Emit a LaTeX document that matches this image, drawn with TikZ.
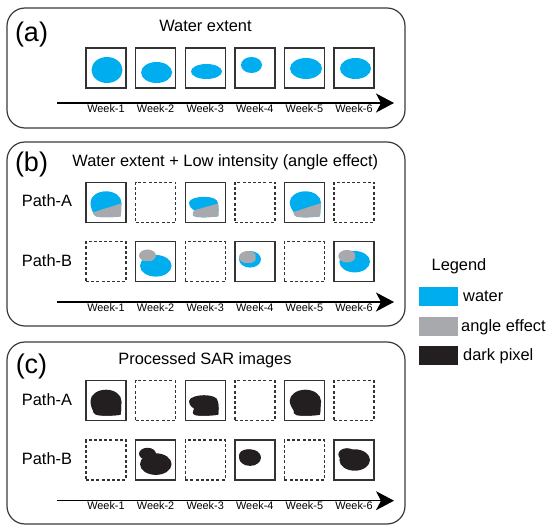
\documentclass[tikz,border=0pt]{standalone}
\usepackage{fontspec}
\setmainfont{Liberation Sans}
\usetikzlibrary{arrows.meta}
\definecolor{water}{HTML}{00AEEF}
\definecolor{angle}{HTML}{A7A9AC}
\definecolor{dark}{HTML}{231F20}
\definecolor{panelgray}{HTML}{3A3A3A}
\definecolor{boxgray}{HTML}{333333}
\def\blobAone{(-13,10) .. controls (-14.8,7) and (-15.5,3) .. (-15.5,0) .. controls (-15.5,-6.1) and (-8.5,-11) .. (0,-11) .. controls (8.5,-11) and (15.5,-6.1) .. (15.5,0.5) .. controls (14.8,5) and (15.5,10) .. (14.5,14) .. controls (10,15) and (-6,15.5) .. (-10,14) .. controls (-12,13) and (-12.8,11.5) .. cycle}
\def\blobAthree{(-11,8) .. controls (-14.5,6) and (-16.5,3) .. (-16,0) .. controls (-15.5,-3.5) and (-8,-5.5) .. (-1,-5.5) .. controls (6,-5.5) and (12.6,-3.5) .. (12.6,0.5) .. controls (13.5,4) and (13.5,10) .. (13,14) .. controls (6,15) and (-6,15.5) .. (-10,14.3) .. controls (-13,13.5) and (-13,10) .. cycle}
\def\blobAfive{(-10.7,9.7) .. controls (-13,7) and (-14.7,3) .. (-14.7,0) .. controls (-14.7,-6.1) and (-7.4,-11) .. (1,-11) .. controls (9.4,-11) and (16.7,-6.1) .. (16.7,0.7) .. controls (15.8,5) and (16.2,10) .. (15.5,14) .. controls (10,15) and (-4,15.5) .. (-8,14.3) .. controls (-10.5,13.5) and (-11.2,11.5) .. cycle}
\newcommand\shapeAone[2]{\fill[#1] \blobAone;
  \begin{scope}\clip \blobAone; \fill[#2] (-20,12.3) -- (20,-0.4) -- (20,20) -- (-20,20) -- cycle;\end{scope}}
\newcommand\shapeAthree[2]{\fill[#1] \blobAthree;
  \begin{scope}\clip \blobAthree; \fill[#2] (-20,10.5) -- (20,-0.77) -- (20,20) -- (-20,20) -- cycle;\end{scope}}
\newcommand\shapeAfive[2]{\fill[#1] \blobAfive;
  \begin{scope}\clip \blobAfive; \fill[#2] (-20,12.75) -- (20,-0.38) -- (20,20) -- (-20,20) -- cycle;\end{scope}}
\newcommand\shapeBtwo[2]{\fill[#1] (0.2,4.1) ellipse [x radius=15.8pt, y radius=10.8pt];
  \begin{scope}\clip (-30,-30) rectangle (0.4,-0.7); \fill[#2] (-8.1,-6.2) ellipse [x radius=8.5pt, y radius=6pt];\end{scope}}
\newcommand\shapeBfour[2]{\fill[#1] (-4.8,-2.4) ellipse [x radius=11pt, y radius=8.3pt];
  \begin{scope}\clip (-30,-30) rectangle (0.9,0.6); \fill[#2] (-7,-4.5) ellipse [x radius=8.8pt, y radius=6.2pt];\end{scope}}
\newcommand\shapeBsix[2]{\fill[#1] (0.7,0) ellipse [x radius=15.3pt, y radius=10.7pt];
  \begin{scope}\clip (-30,-30) rectangle (1,0.6); \fill[#2] (-7,-5.5) ellipse [x radius=8.7pt, y radius=6.3pt];\end{scope}}
\tikzset{
  panel/.style={draw=panelgray, line width=1.2pt, rounded corners=18pt, inner sep=0pt},
  wbox/.style={draw=boxgray, line width=1.4pt, minimum size=40pt, inner sep=0pt},
  dbox/.style={wbox, dash pattern=on 3pt off 2.2pt},
  timeline/.style={draw=black, line width=1.2pt, -{Stealth[length=18pt,width=19pt,inset=5pt]}},
  weeklbl/.style={font=\fontsize{10.9}{12}\selectfont, anchor=base, inner sep=0pt},
  title/.style={font=\fontsize{16.4}{19}\selectfont, anchor=base, inner sep=0pt},
  plabel/.style={font=\fontsize{27}{30}\selectfont, anchor=base, inner sep=0pt},
  pathlbl/.style={font=\fontsize{16.4}{19}\selectfont, anchor=base, inner sep=0pt},
  legtxt/.style={font=\fontsize{16.4}{19}\selectfont, anchor=base west, inner sep=0pt},
  swatch/.style={minimum width=39pt, minimum height=19pt, inner sep=0pt},
}
\begin{document}
\begin{tikzpicture}[x=1pt,y=-1pt]
\useasboundingbox (0,0) rectangle (550,532);
% panels
\node[panel, minimum width=398pt, minimum height=120pt] (pa) at (206,68) {};
\node[panel, minimum width=398pt, minimum height=184pt] (pb) at (206,234) {};
\node[panel, minimum width=398pt, minimum height=182pt] (pc) at (206,433) {};
% labels and titles
\node[plabel] (la) at (31.5,41.7) {(a)};
\node[plabel] (lb) at (31.5,171.7) {(b)};
\node[plabel] (lc) at (31.5,373.3) {(c)};
\node[title] (ta) at (205.5,31.7) {Water extent};
\node[title] (tb) at (225.3,166.7) {Water extent + Low intensity (angle effect)};
\node[title] (tc) at (205,365) {Processed SAR images};
\node[pathlbl] (pbA) at (47,206.8) {Path-A};
\node[pathlbl] (pbB) at (47,266.2) {Path-B};
\node[pathlbl] (pcA) at (47,405.2) {Path-A};
\node[pathlbl] (pcB) at (47,464.5) {Path-B};
% boxes
\foreach \i/\x in {1/106,2/155.6,3/205.2,4/254.8,5/304.4,6/354}{
  \node[wbox] (a\i) at (\x,68) {};
  \node[weeklbl] (wa\i) at (\x,112.7) {Week-\i};
  \node[weeklbl] (wb\i) at (\x,311.7) {Week-\i};
  \node[weeklbl] (wc\i) at (\x,510) {Week-\i};
}
\foreach \i/\x in {1/106,3/205.2,5/304.4}{
  \node[wbox] (bA\i) at (\x,202.3) {};
  \node[dbox] (bB\i) at (\x,261.7) {};
  \node[wbox] (cA\i) at (\x,400.7) {};
  \node[dbox] (cB\i) at (\x,460) {};
}
\foreach \i/\x in {2/155.6,4/254.8,6/354}{
  \node[dbox] (bA\i) at (\x,202.3) {};
  \node[wbox] (bB\i) at (\x,261.7) {};
  \node[dbox] (cA\i) at (\x,400.7) {};
  \node[wbox] (cB\i) at (\x,460) {};
}
% panel (a) water
\fill[water] (a1.center) ++(1,2) ellipse [x radius=15.5pt, y radius=13pt];
\fill[water] (a2.center) ++(1,4.5) ellipse [x radius=15.5pt, y radius=10.5pt];
\fill[water] (a3.center) ++(1.3,3.5) ellipse [x radius=15.5pt, y radius=7.5pt];
\fill[water] (a4.center) ++(-3.3,-3) ellipse [x radius=10.5pt, y radius=8pt];
\fill[water] (a5.center) ++(1.6,0.5) ellipse [x radius=16pt, y radius=10.5pt];
\fill[water] (a6.center) ++(1.5,0.5) ellipse [x radius=15.5pt, y radius=10.5pt];
% panel (b)
\begin{scope}[shift={(bA1.center)}]\shapeAone{water}{angle}\end{scope}
\begin{scope}[shift={(bA3.center)}]\shapeAthree{water}{angle}\end{scope}
\begin{scope}[shift={(bA5.center)}]\shapeAfive{water}{angle}\end{scope}
\begin{scope}[shift={(bB2.center)}]\shapeBtwo{water}{angle}\end{scope}
\begin{scope}[shift={(bB4.center)}]\shapeBfour{water}{angle}\end{scope}
\begin{scope}[shift={(bB6.center)}]\shapeBsix{water}{angle}\end{scope}
% panel (c)
\begin{scope}[shift={(cA1.center)}]\shapeAone{dark}{dark}\end{scope}
\begin{scope}[shift={(cA3.center)}]\shapeAthree{dark}{dark}\end{scope}
\begin{scope}[shift={(cA5.center)}]\shapeAfive{dark}{dark}\end{scope}
\begin{scope}[shift={(cB2.center)}]\shapeBtwo{dark}{dark}\end{scope}
\begin{scope}[shift={(cB4.center)}]\shapeBfour{dark}{dark}\end{scope}
\begin{scope}[shift={(cB6.center)}]\shapeBsix{dark}{dark}\end{scope}
% timelines
\coordinate (aS) at (57,103); \coordinate (aE) at (394,103);
\coordinate (bS) at (57,302); \coordinate (bE) at (394,302);
\coordinate (cS) at (57,500.7); \coordinate (cE) at (394,500.7);
\draw[timeline] (aS) -- (aE);
\draw[timeline] (bS) -- (bE);
\draw[timeline] (cS) -- (cE);
% legend
\node[font=\fontsize{16.4}{19}\selectfont, anchor=base, inner sep=0pt] (leg) at (459,271) {Legend};
\node[swatch, fill=water] (sw1) at (438.5,296.5) {};
\node[swatch, fill=angle] (sw2) at (438.5,326.5) {};
\node[swatch, fill=dark] (sw3) at (438.5,356) {};
\node[legtxt] (lt1) at (463,301.7) {water};
\node[legtxt] (lt2) at (461,331.7) {angle effect};
\node[legtxt] (lt3) at (463,360.7) {dark pixel};
\end{tikzpicture}
\end{document}
